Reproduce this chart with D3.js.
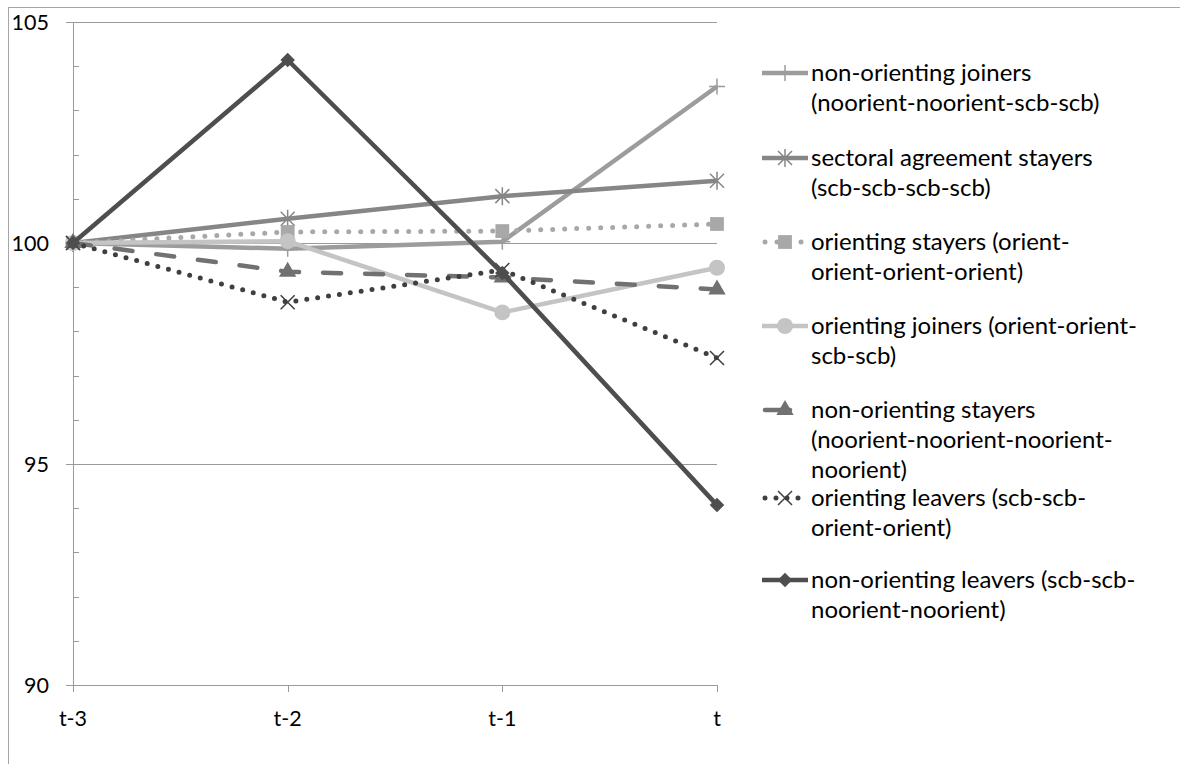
<!DOCTYPE html>
<html>
  <head>
    <meta charset="utf-8">
    <script src="https://cdn.jsdelivr.net/npm/d3@7"></script>
    <style>
      html, body {
        margin: 0;
        padding: 0;
        background: #ffffff;
      }
      svg {
        display: block;
        font-family: 'Lato', 'Open Sans', sans-serif;
      }
    </style>
  </head>
  <body>
    <svg width="1180" height="764"></svg>
    <script>
      // values (index = 100 at t-3)
      const categories = ["t-3", "t-2", "t-1", "t"];
      const yTicks = [90, 95, 100, 105];

      const nonOrientingJoiners = [100, 99.87, 100.03, 103.54];
      const sectoralStayers = [100, 100.55, 101.06, 101.41];
      const orientingStayers = [100, 100.25, 100.27, 100.43];
      const orientingJoiners = [100, 100.04, 98.43, 99.44];
      const nonOrientingStayers = [100, 99.35, 99.22, 98.95];
      const orientingLeavers = [100, 98.66, 99.39, 97.40];
      const nonOrientingLeavers = [100, 104.14, 99.32, 94.07];

      const seriesNames = [
        ["non-orienting joiners", "(noorient-noorient-scb-scb)"],
        ["sectoral agreement stayers", "(scb-scb-scb-scb)"],
        ["orienting stayers (orient-", "orient-orient-orient)"],
        ["orienting joiners (orient-orient-", "scb-scb)"],
        ["non-orienting stayers", "(noorient-noorient-noorient-", "noorient)"],
        ["orienting leavers (scb-scb-", "orient-orient)"],
        ["non-orienting leavers (scb-scb-", "noorient-noorient)"]
      ];

      const styles = [
        { color: "#9c9c9c", dash: null, marker: "plus" },
        { color: "#868686", dash: null, marker: "asterisk" },
        { color: "#a8a8a8", dash: "0 12", marker: "square" },
        { color: "#c4c4c4", dash: null, marker: "circle" },
        { color: "#717171", dash: "18 24", marker: "triangle" },
        { color: "#3f3f3f", dash: "0 11", marker: "x" },
        { color: "#4e4e4e", dash: null, marker: "diamond" }
      ];

      const allValues = [nonOrientingJoiners, sectoralStayers, orientingStayers,
        orientingJoiners, nonOrientingStayers, orientingLeavers, nonOrientingLeavers];

      // legend entry centres (layout)
      const legendY = [73, 158, 242, 326, 410, 498, 580];

      const svg = d3.select("svg");

      // outer chart frame (runs off the right and bottom edges)
      svg.append("rect")
        .attr("x", 8.5).attr("y", 7.5)
        .attr("width", 1200).attr("height", 800)
        .attr("fill", "none")
        .attr("stroke", "#a6a6a6");

      const x = d3.scalePoint().domain(categories).range([73, 717]);
      const y = d3.scaleLinear().domain([90, 105]).range([685, 22]);

      const axisColor = "#9a9a9a";

      // horizontal gridlines with outside tick
      svg.append("g")
        .selectAll("line")
        .data(yTicks)
        .join("line")
        .attr("x1", 66).attr("x2", x("t"))
        .attr("y1", d => Math.round(y(d)) + 0.5)
        .attr("y2", d => Math.round(y(d)) + 0.5)
        .attr("stroke", axisColor)
        .attr("stroke-width", 1);

      // minor ticks, inside
      svg.append("g")
        .selectAll("line")
        .data(d3.range(91, 105).filter(d => d % 5 !== 0))
        .join("line")
        .attr("x1", x("t-3")).attr("x2", x("t-3") + 6)
        .attr("y1", d => Math.round(y(d)) + 0.5)
        .attr("y2", d => Math.round(y(d)) + 0.5)
        .attr("stroke", axisColor);

      // y axis line
      svg.append("line")
        .attr("x1", x("t-3") + 0.5).attr("x2", x("t-3") + 0.5)
        .attr("y1", y(105)).attr("y2", y(90))
        .attr("stroke", axisColor);

      // x ticks
      svg.append("g")
        .selectAll("line")
        .data(categories)
        .join("line")
        .attr("x1", d => Math.round(x(d)) + 0.5)
        .attr("x2", d => Math.round(x(d)) + 0.5)
        .attr("y1", y(90)).attr("y2", y(90) + 7)
        .attr("stroke", axisColor);

      svg.append("g")
        .selectAll("text")
        .data(yTicks)
        .join("text")
        .attr("x", 49)
        .attr("y", d => y(d) + 7.5)
        .attr("text-anchor", "end")
        .attr("font-size", 21.5)
        .attr("fill", "#000")
        .text(d => d);

      svg.append("g")
        .selectAll("text")
        .data(categories)
        .join("text")
        .attr("x", d => x(d))
        .attr("y", 726)
        .attr("text-anchor", "middle")
        .attr("font-size", 21.5)
        .attr("fill", "#000")
        .text(d => d);

      // marker shapes
      function markerPath(kind) {
        switch (kind) {
          case "plus": return "M-8,0H8M0,-8V8";
          case "asterisk": return "M-7,-7L7,7M-7,7L7,-7M0,-9V9";
          case "x": return "M-7,-7L7,7M-7,7L7,-7";
          case "square": return d3.symbol(d3.symbolSquare, 190)();
          case "circle": return d3.symbol(d3.symbolCircle, 200)();
          case "triangle": return d3.symbol(d3.symbolTriangle, 130)();
          case "diamond": return d3.symbol(d3.symbolSquare, 105)();
        }
      }
      const strokeMarkers = ["plus", "asterisk", "x"];

      function drawMarker(g, kind, color, cx, cy) {
        const p = g.append("path")
          .attr("d", markerPath(kind))
          .attr("transform", `translate(${cx},${cy})` + (kind === "diamond" ? " rotate(45)" : ""));
        if (strokeMarkers.includes(kind)) {
          p.attr("fill", "none").attr("stroke", color).attr("stroke-width", 1.5);
        } else {
          p.attr("fill", color);
        }
      }

      const line = d3.line()
        .x((d, i) => x(categories[i]))
        .y(d => y(d));

      const plot = svg.append("g");
      allValues.forEach((vals, si) => {
        const st = styles[si];
        const g = plot.append("g");
        g.append("path")
          .attr("d", line(vals))
          .attr("fill", "none")
          .attr("stroke", st.color)
          .attr("stroke-width", st.dash === "0 12" || st.dash === "0 11" ? 5 : 4.5)
          .attr("stroke-linecap", st.dash ? "round" : "butt")
          .attr("stroke-linejoin", "round")
          .attr("stroke-dasharray", st.dash);
        vals.forEach((v, i) => drawMarker(g, st.marker, st.color, x(categories[i]), y(v)));
      });

      // legend
      const legend = svg.append("g");
      seriesNames.forEach((lines, si) => {
        const st = styles[si];
        const cy = legendY[si];
        const g = legend.append("g");
        g.append("line")
          .attr("x1", st.dash ? 765 : 762).attr("x2", st.dash === "18 24" ? 790 : 808)
          .attr("y1", cy).attr("y2", cy)
          .attr("stroke", st.color)
          .attr("stroke-width", st.dash && st.dash.startsWith("0") ? 5 : 4.5)
          .attr("stroke-linecap", st.dash ? "round" : "butt")
          .attr("stroke-dasharray", st.dash === "18 24" ? null : st.dash);
        drawMarker(g, st.marker, st.color, 785, cy);
        g.append("text")
          .attr("x", 811)
          .attr("y", cy + 8)
          .attr("font-size", 24)
          .attr("fill", "#000")
          .selectAll("tspan")
          .data(lines)
          .join("tspan")
          .attr("x", 811)
          .attr("dy", (d, i) => i === 0 ? 0 : 30)
          .text(d => d);
      });
    </script>
  </body>
</html>
